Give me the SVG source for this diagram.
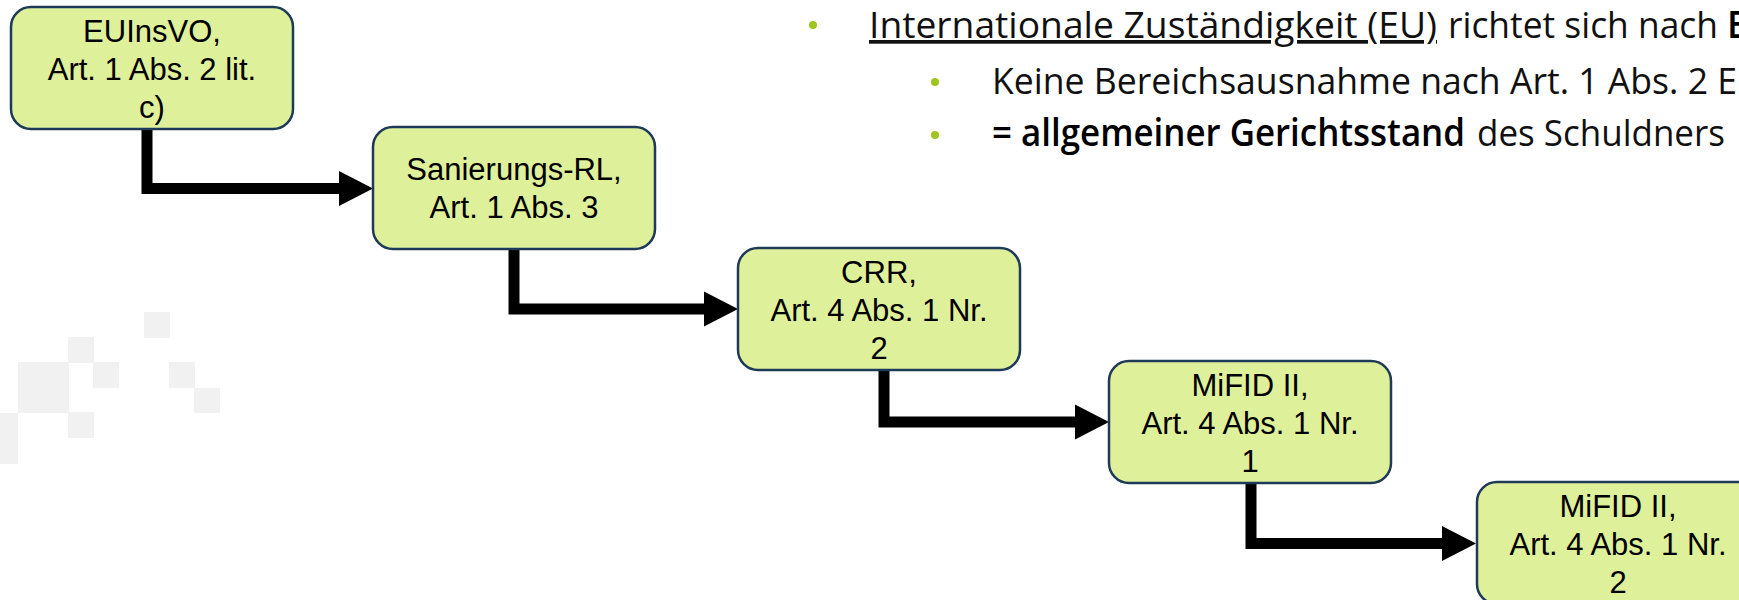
<svg xmlns="http://www.w3.org/2000/svg" width="1739" height="600" viewBox="0 0 1739 600">
<defs>
<style>
.bg{fill:#f1f1f1}
.box{fill:#dff09b;stroke:#1d3a57;stroke-width:2.5}
.lbl{font-family:"Liberation Sans",Arial,sans-serif;font-size:31px;fill:#000;text-anchor:middle}
.conn{fill:none;stroke:#000;stroke-width:11;stroke-linejoin:miter}
.bt{font-family:"Open Sans","Noto Sans",sans-serif;font-size:37px;font-weight:400;fill:#111}
.bb{font-family:"Open Sans","Noto Sans",sans-serif;font-size:37px;font-weight:600;fill:#000}
.ul{text-decoration:underline;text-decoration-skip-ink:none}
.dot{fill:#9fc51f}
</style>
<marker id="ah" markerUnits="userSpaceOnUse" markerWidth="35" markerHeight="36" refX="0" refY="18" orient="auto">
<path d="M0,0.5 L34,18 L0,35.5 z" fill="#000"/>
</marker>
</defs>
<rect width="1739" height="600" fill="#fff"/>
<g id="background">
<rect class="bg" x="144" y="312" width="26" height="26"/>
<rect class="bg" x="68" y="337" width="26" height="26"/>
<rect class="bg" x="18" y="362" width="51" height="51"/>
<rect class="bg" x="93" y="362" width="26" height="26"/>
<rect class="bg" x="169" y="362" width="26" height="26"/>
<rect class="bg" x="194" y="388" width="26" height="25"/>
<rect class="bg" x="68" y="412" width="26" height="26"/>
<rect class="bg" x="0" y="413" width="18" height="51"/>
</g>
<g id="connectors">
<path class="conn" d="M147,129 V188.5 H339" marker-end="url(#ah)"/>
<path class="conn" d="M514,249 V309 H704" marker-end="url(#ah)"/>
<path class="conn" d="M884,370 V422 H1075" marker-end="url(#ah)"/>
<path class="conn" d="M1251,483 V543.5 H1442" marker-end="url(#ah)"/>
</g>
<g id="n1">
<rect class="box" x="11" y="7" width="282" height="122" rx="20"/>
<text class="lbl" x="152" y="42">EUInsVO,</text>
<text class="lbl" x="152" y="80">Art. 1 Abs. 2 lit.</text>
<text class="lbl" x="152" y="118">c)</text>
</g>
<g id="n2">
<rect class="box" x="373" y="127" width="282" height="122" rx="20"/>
<text class="lbl" x="514" y="180">Sanierungs-RL,</text>
<text class="lbl" x="514" y="218">Art. 1 Abs. 3</text>
</g>
<g id="n3">
<rect class="box" x="738" y="248" width="282" height="122" rx="20"/>
<text class="lbl" x="879" y="283">CRR,</text>
<text class="lbl" x="879" y="321">Art. 4 Abs. 1 Nr.</text>
<text class="lbl" x="879" y="359">2</text>
</g>
<g id="n4">
<rect class="box" x="1109" y="361" width="282" height="122" rx="20"/>
<text class="lbl" x="1250" y="396">MiFID II,</text>
<text class="lbl" x="1250" y="434">Art. 4 Abs. 1 Nr.</text>
<text class="lbl" x="1250" y="472">1</text>
</g>
<g id="n5">
<rect class="box" x="1477" y="482" width="282" height="122" rx="20"/>
<text class="lbl" x="1618" y="517">MiFID II,</text>
<text class="lbl" x="1618" y="555">Art. 4 Abs. 1 Nr.</text>
<text class="lbl" x="1618" y="593">2</text>
</g>
<g id="bullets">
<circle class="dot" cx="813" cy="25" r="4"/>
<circle class="dot" cx="935" cy="82" r="4"/>
<circle class="dot" cx="935" cy="135" r="4"/>
<text class="bt ul" x="869" y="38" textLength="568" lengthAdjust="spacingAndGlyphs">Internationale Zuständigkeit (EU)</text>
<text class="bt" x="1448" y="38" textLength="270" lengthAdjust="spacingAndGlyphs">richtet sich nach</text>
<text class="bb" x="1727" y="38" textLength="20" lengthAdjust="spacingAndGlyphs">E</text>
<text class="bt" x="992" y="94" textLength="745" lengthAdjust="spacingAndGlyphs">Keine Bereichsausnahme nach Art. 1 Abs. 2 E</text>
<text class="bb" x="992" y="146" textLength="473" lengthAdjust="spacingAndGlyphs">= allgemeiner Gerichtsstand</text>
<text class="bt" x="1477" y="146" textLength="248" lengthAdjust="spacingAndGlyphs">des Schuldners</text>
</g>
</svg>
